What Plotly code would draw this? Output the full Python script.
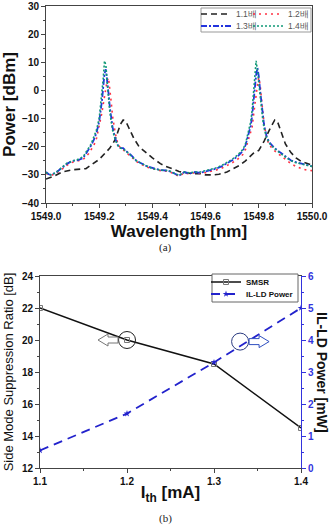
import plotly.graph_objects as go

# ---------------- data: (a) spectra ----------------
wl = [1549.00, 1549.01, 1549.02, 1549.04, 1549.06, 1549.08, 1549.10, 1549.12, 1549.14, 1549.15,
      1549.16, 1549.17, 1549.18, 1549.19, 1549.20, 1549.205, 1549.21, 1549.215, 1549.22, 1549.225,
      1549.23, 1549.235, 1549.24, 1549.245, 1549.25, 1549.26, 1549.27, 1549.28, 1549.29, 1549.30,
      1549.32, 1549.34, 1549.36, 1549.38, 1549.40, 1549.43, 1549.46, 1549.48, 1549.50, 1549.52,
      1549.54, 1549.56, 1549.58, 1549.60, 1549.62, 1549.64, 1549.66, 1549.68, 1549.70, 1549.72,
      1549.74, 1549.75, 1549.76, 1549.77, 1549.775, 1549.78, 1549.785, 1549.79, 1549.795, 1549.80,
      1549.805, 1549.81, 1549.815, 1549.82, 1549.83, 1549.84, 1549.85, 1549.86, 1549.88, 1549.90,
      1549.92, 1549.94, 1549.96, 1549.98, 1550.00]

p12 = [-29.5, -30, -30.2, -29.3, -28, -26.5, -25.5, -25, -24.5, -23.5,
       -22.5, -21, -19.5, -17, -13, -11, -8, -5, -2, 1,
       3.5, 4.5, 1, -4, -9, -15, -19, -20.5, -21, -22,
       -23.5, -25.3, -26.3, -27.3, -27.8, -28.5, -28.7, -29.5, -30.5, -29.3,
       -29.7, -29.2, -29.5, -29.2, -28.8, -28.3, -27.7, -26.8, -25.7, -24.5,
       -22.8, -21, -18, -15, -13, -9, -5, -1, 2, 4.5,
       2, -3, -8, -12, -17, -19.5, -20.5, -21.5, -23, -24.5,
       -26, -27, -27.8, -28.3, -28.5]

p13 = [-29, -29.8, -30, -29, -27.5, -26, -25, -24.8, -24, -22.5,
       -21, -19.5, -17.5, -15, -11, -8, -4, 1, 6, 7.5,
       4, -1, -6, -10, -13, -17, -19.5, -20.5, -20.5, -21.5,
       -23, -25, -26, -27, -27.5, -28.3, -28.5, -29.3, -30.3, -29,
       -29.5, -29, -29.3, -28.8, -28.3, -27.8, -27, -26, -24.8, -23.5,
       -21.5, -19.5, -16, -12.5, -9, -4, 1, 5.5, 8, 5,
       0, -5, -9, -12.5, -16.5, -18.5, -19.5, -20.5, -22, -23.5,
       -24.8, -25.5, -26, -26.3, -27]

p14 = [-29.2, -29.8, -30, -29, -27.3, -25.8, -25, -24.5, -23.5, -22,
       -20.5, -19, -16.5, -14, -10, -6, -1, 4, 10.5, 9,
       3, -3, -7.5, -11, -14, -17.5, -19.5, -20.5, -20.8, -21.5,
       -23.2, -25, -26, -27, -27.8, -28.3, -28.5, -29.3, -30.2, -29,
       -29.3, -29, -29, -28.5, -28, -27.5, -26.7, -25.7, -24.5, -23,
       -21, -19, -15, -11, -7, -1, 5, 10.5, 7, 2,
       -3, -7, -10.5, -13.5, -17, -18.8, -19.8, -20.8, -22.3, -23.8,
       -25, -25.7, -26.2, -26.5, -27]

wl11 = [1549.00, 1549.03, 1549.06, 1549.10, 1549.15, 1549.18, 1549.20, 1549.22, 1549.24, 1549.26,
        1549.27, 1549.28, 1549.29, 1549.30, 1549.31, 1549.33, 1549.35, 1549.38, 1549.40, 1549.43,
        1549.45, 1549.48, 1549.50, 1549.53, 1549.55, 1549.58, 1549.60, 1549.63, 1549.65, 1549.68,
        1549.70, 1549.73, 1549.75, 1549.78, 1549.80, 1549.82, 1549.84, 1549.85, 1549.86, 1549.87,
        1549.88, 1549.90, 1549.92, 1549.94, 1549.96, 1549.98, 1550.00]
p11 = [-31.5, -30.5, -29, -28.2, -27.8, -26, -24.5, -22.5, -20.5, -17.5,
       -14.5, -12, -10.5, -11, -13, -17, -20, -22.5, -24, -26,
       -27, -28, -28.8, -29.3, -29.6, -29.5, -30, -30, -29.8, -29,
       -28, -26.5, -25, -22.3, -21.3, -18, -14, -12, -10.5, -11,
       -13.5, -19, -22, -24, -25.3, -26, -26.5]

names_a = ["1.1배", "1.2배", "1.3배", "1.4배"]

# ---------------- data: (b) ----------------
ith = [1.1, 1.2, 1.3, 1.4]
smsr = [22.0, 20.0, 18.5, 14.5]
ilpow = [0.55, 1.7, 3.3, 5.0]

W, H = 331, 529


def px_x(p):
    return p / W


def px_y(p):
    return 1 - p / H


fig = go.Figure()

fig.add_trace(go.Scatter(x=wl11, y=p11, name=names_a[0], mode="lines",
                         line=dict(color="#222222", width=1.6, dash="6px,4px"),
                         xaxis="x", yaxis="y", legend="legend", showlegend=True))
fig.add_trace(go.Scatter(x=wl, y=p12, name=names_a[1], mode="lines",
                         line=dict(color="#ff3344", width=1.6, dash="2px,4px"),
                         xaxis="x", yaxis="y", legend="legend3", showlegend=True))
fig.add_trace(go.Scatter(x=wl, y=p13, name=names_a[2], mode="lines",
                         line=dict(color="#2233dd", width=1.8, dash="6px,2px,2px,2px"),
                         xaxis="x", yaxis="y", legend="legend5", showlegend=True))
fig.add_trace(go.Scatter(x=wl, y=p14, name=names_a[3], mode="lines",
                         line=dict(color="#119977", width=1.6, dash="2px,2px"),
                         xaxis="x", yaxis="y", legend="legend6", showlegend=True))

fig.add_trace(go.Scatter(x=ith, y=smsr, name="SMSR", mode="lines+markers",
                         line=dict(color="#111111", width=1.5),
                         marker=dict(symbol="square-open", size=5, color="#777777"),
                         xaxis="x2", yaxis="y2", legend="legend2", showlegend=True))
fig.add_trace(go.Scatter(x=ith, y=ilpow, name="IL-LD Power", mode="lines+markers",
                         line=dict(color="#2222cc", width=1.8, dash="9px,6px"),
                         marker=dict(symbol="star", size=5, color="#2222cc"),
                         xaxis="x2", yaxis="y3", legend="legend4", showlegend=True))

axcol = "#444444"
TF = dict(family="Liberation Sans", size=10, color="#111111", weight="bold")

# plot areas (pixels)
A = dict(l=46, r=312, t=6, b=203)
B = dict(l=40, r=301, t=276, b=468)


def top_legend(xp, yp):
    return dict(orientation="h", x=px_x(xp), xanchor="left", y=px_y(yp), yanchor="middle",
                bgcolor="rgba(0,0,0,0)", borderwidth=0, itemwidth=30,
                font=dict(family="Liberation Sans", size=8.5, color="#555555"))


def bot_legend(xp, yp):
    return dict(orientation="v", x=px_x(xp), xanchor="left", y=px_y(yp), yanchor="middle",
                bgcolor="rgba(0,0,0,0)", borderwidth=0, itemwidth=30,
                font=dict(family="Liberation Sans", size=8, color="#111111", weight="bold"))


fig.update_layout(
    width=W, height=H, autosize=False, showlegend=True,
    margin=dict(l=0, r=0, t=0, b=0, autoexpand=False),
    paper_bgcolor="white", plot_bgcolor="white",
    font=dict(family="Liberation Sans", color="#111111"),
    xaxis=dict(domain=[px_x(A["l"]), px_x(A["r"])], anchor="y", automargin=False,
               range=[1549.0, 1550.0], dtick=0.2, tick0=1549.0, tickformat=".1f", tickangle=0,
               showgrid=False, zeroline=False, showline=True, linecolor=axcol, linewidth=1,
               mirror=True, ticks="outside", ticklen=4, tickcolor=axcol,
               minor=dict(ticks="outside", ticklen=2, dtick=0.1, tickcolor=axcol, showgrid=False),
               tickfont=TF,
               title=dict(text="<b>Wavelength [nm]</b>", standoff=1,
                          font=dict(family="Liberation Sans", size=17, color="#111111"))),
    yaxis=dict(domain=[px_y(A["b"]), px_y(A["t"])], anchor="x", automargin=False,
               range=[-40, 30], dtick=10, showgrid=False, zeroline=False,
               showline=True, linecolor=axcol, linewidth=1, mirror=True,
               ticks="outside", ticklen=4, tickcolor=axcol,
               minor=dict(ticks="outside", ticklen=2, dtick=5, tickcolor=axcol, showgrid=False),
               tickfont=TF,
               title=dict(text="<b>Power [dBm]</b>", standoff=6,
                          font=dict(family="Liberation Sans", size=17, color="#111111"))),
    xaxis2=dict(domain=[px_x(B["l"]), px_x(B["r"])], anchor="y2", automargin=False,
                range=[1.1, 1.4], dtick=0.1, tick0=1.1, tickformat=".1f", tickangle=0,
                showgrid=False, zeroline=False, showline=True, linecolor=axcol, linewidth=1,
                mirror=True, ticks="outside", ticklen=4, tickcolor=axcol,
                minor=dict(ticks="outside", ticklen=2, dtick=0.05, tickcolor=axcol, showgrid=False),
                tickfont=TF,
                title=dict(text="<b>I<sub>th</sub> [mA]</b>", standoff=0,
                           font=dict(family="Liberation Sans", size=17, color="#111111"))),
    yaxis2=dict(domain=[px_y(B["b"]), px_y(B["t"])], anchor="x2", automargin=False,
                range=[12, 24], dtick=2, showgrid=False, zeroline=False,
                showline=True, linecolor=axcol, linewidth=1,
                ticks="outside", ticklen=4, tickcolor=axcol,
                minor=dict(ticks="outside", ticklen=2, dtick=1, tickcolor=axcol, showgrid=False),
                tickfont=TF,
                title=dict(text="Side Mode Suppression Ratio [dB]", standoff=5,
                           font=dict(family="Liberation Sans", size=13, color="#111111"))),
    yaxis3=dict(domain=[px_y(B["b"]), px_y(B["t"])], anchor="x2", overlaying="y2", side="right",
                automargin=False,
                range=[0, 6], dtick=1, showgrid=False, zeroline=False,
                showline=True, linecolor="#3333dd", linewidth=1,
                ticks="outside", ticklen=4, tickcolor="#3333dd",
                minor=dict(ticks="outside", ticklen=2, dtick=0.5, tickcolor="#3333dd", showgrid=False),
                tickfont=dict(family="Liberation Sans", size=10, color="#3333dd", weight="bold")),
    legend=top_legend(196, 14),
    legend3=top_legend(248, 14),
    legend5=top_legend(196, 26),
    legend6=top_legend(248, 26),
    legend2=bot_legend(206, 282),
    legend4=bot_legend(206, 294),
)

shapes = []
# legend boxes
shapes.append(dict(type="rect", xref="paper", yref="paper", layer="above",
                   x0=px_x(201), x1=px_x(311), y0=px_y(32), y1=px_y(8),
                   line=dict(color="#999999", width=1), fillcolor="white"))
shapes.append(dict(type="rect", xref="paper", yref="paper", layer="above",
                   x0=px_x(212), x1=px_x(298), y0=px_y(302), y1=px_y(274),
                   line=dict(color="#666666", width=1), fillcolor="white"))
# circle + arrow markers for axis association
shapes.append(dict(type="circle", xref="x2", yref="y2", xsizemode="pixel", ysizemode="pixel",
                   xanchor=1.2, yanchor=20, x0=-8.5, x1=8.5, y0=-8.5, y1=8.5,
                   line=dict(color="#222222", width=1), layer="above"))
shapes.append(dict(type="path", xref="x2", yref="y2", xsizemode="pixel", ysizemode="pixel",
                   xanchor=1.2, yanchor=20,
                   path="M -9,3 L -19,3 L -19,6 L -29,0 L -19,-6 L -19,-3 L -9,-3 Z",
                   line=dict(color="#777777", width=1), fillcolor="white", layer="above"))
shapes.append(dict(type="circle", xref="x2", yref="y3", xsizemode="pixel", ysizemode="pixel",
                   xanchor=1.33, yanchor=3.95, x0=-8.5, x1=8.5, y0=-8.5, y1=8.5,
                   line=dict(color="#2a3a80", width=1), layer="above"))
shapes.append(dict(type="path", xref="x2", yref="y3", xsizemode="pixel", ysizemode="pixel",
                   xanchor=1.33, yanchor=3.95,
                   path="M 9,3 L 19,3 L 19,6 L 29,0 L 19,-6 L 19,-3 L 9,-3 Z",
                   line=dict(color="#3050c0", width=1), fillcolor="white", layer="above"))
fig.update_layout(shapes=shapes)

# right-axis title, reading top-to-bottom as in the reference
fig.add_annotation(text="<b>IL-LD Power [mW]</b>", xref="paper", yref="paper",
                   x=px_x(322), y=px_y(372), xanchor="center", yanchor="middle",
                   textangle=90, showarrow=False,
                   font=dict(family="Liberation Sans", size=14, color="#111111"))

fig.add_annotation(text="(a)", xref="paper", yref="paper", x=px_x(165), y=px_y(247),
                   xanchor="center", yanchor="middle", showarrow=False,
                   font=dict(family="Liberation Serif", size=11, color="#222222"))
fig.add_annotation(text="(b)", xref="paper", yref="paper", x=px_x(165), y=px_y(518),
                   xanchor="center", yanchor="middle", showarrow=False,
                   font=dict(family="Liberation Serif", size=11, color="#222222"))

fig.write_html("out.html")
